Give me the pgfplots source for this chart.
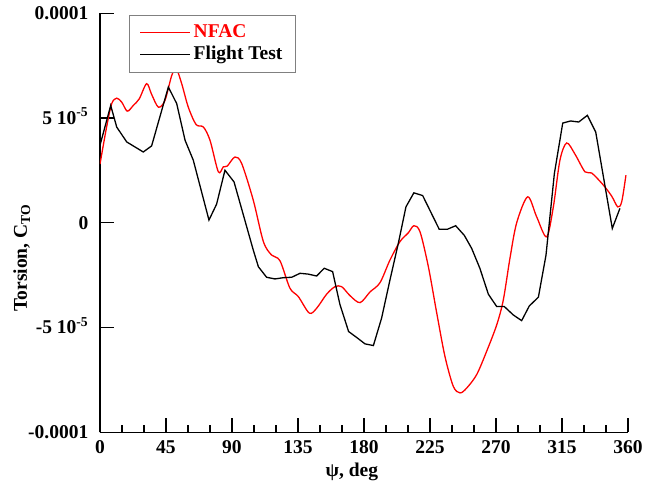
\documentclass[border=0pt]{standalone}
\usepackage{fontspec}
\setmainfont{Liberation Serif}
\usepackage{pgfplots}
\pgfplotsset{compat=1.18}
\begin{document}
\fontsize{19.5}{22}\selectfont\bfseries
\begin{tikzpicture}
\path[use as bounding box] (-100pt,-56.7pt) rectangle (557pt,432.3pt);
\begin{axis}[
  scale only axis, width=528pt, height=419pt,
  xmin=0, xmax=360, ymin=-0.0001, ymax=0.0001,
  axis x line*=bottom, axis y line*=left,
  axis line style={line width=1.3pt},
  xtick={0,45,...,360}, minor x tick num=2,
  ytick={-0.0001,-0.00005,0,0.00005,0.0001},
  yticklabels={-0.0001,{-5 10\smash{\textsuperscript{-5}}},0,{5 10\smash{\textsuperscript{-5}}},0.0001},
  scaled y ticks=false,
  /pgf/number format/assume math mode=true,
  tick align=inside, major tick length=14pt, minor tick length=7pt,
  every tick/.style={black, line width=1.3pt},
  tick label style={font=\fontsize{19.5}{22}\selectfont\bfseries},
  yticklabel style={xshift=-5pt},
  xticklabel style={yshift=-2pt},
  xlabel={ψ, deg},
  ylabel={Torsion, C\textsubscript{TO}},
  label style={font=\fontsize{19.5}{22}\selectfont\bfseries},
  xlabel style={at={(axis description cs:0.477,-0.095)}, anchor=center},
  ylabel style={at={(axis description cs:-0.148,0.416)}, anchor=center},
  legend style={at={(axis description cs:0.055,0.9967)}, anchor=north west,
    draw=gray, line width=0.8pt, font=\fontsize{19.5}{22}\selectfont\bfseries,
    nodes={inner sep=3pt},
    inner xsep=10pt, inner ysep=6.5pt, row sep=0pt},
  legend cell align=left,
  legend image code/.code={\draw[#1, line width=1.3pt] (0pt,0pt) -- (50pt,0pt);},
]
\addplot[red, line width=1.3pt, smooth, tension=0.5] coordinates {
(0,2.8e-5) (4.5,4.57e-5) (8,5.69e-5) (11.4,5.95e-5) (14.8,5.76e-5) (18.6,5.33e-5)
(22.7,5.6e-5) (26.8,5.92e-5) (31.8,6.64e-5) (35.2,6.13e-5) (39.8,5.52e-5) (44.3,5.84e-5)
(48.9,7.03e-5) (52,7.35e-5) (55.7,6.64e-5) (60.2,5.52e-5) (65.5,4.69e-5) (70.5,4.57e-5)
(75,3.94e-5) (80.7,2.43e-5) (84.1,2.67e-5) (86.8,2.71e-5) (92,3.14e-5) (96.6,2.83e-5)
(104.5,1.08e-5) (111.4,-0.9e-5) (117,-1.54e-5) (122.7,-1.81e-5) (129.5,-3.12e-5)
(135.2,-3.52e-5) (142.7,-4.31e-5) (147.7,-4.08e-5) (154.5,-3.41e-5) (160.2,-3.05e-5)
(164.8,-3.05e-5) (170.5,-3.48e-5) (177.3,-3.81e-5) (184.1,-3.3e-5) (190.9,-2.86e-5)
(197.7,-1.78e-5) (204.5,-0.9e-5) (210.2,-0.48e-5) (214,-0.14e-5) (218.2,-0.43e-5)
(223.9,-2.1e-5) (229.6,-4.31e-5) (235.2,-6.38e-5) (240.9,-7.81e-5) (245.5,-8.12e-5)
(250,-7.89e-5) (256.8,-7.25e-5) (263.6,-6.14e-5) (270.5,-4.87e-5) (275,-3.68e-5)
(279.5,-1.7e-5) (284.1,0.0) (291.6,1.24e-5) (297.7,0.29e-5) (304.5,-0.67e-5)
(309.1,0.76e-5) (313.6,2.99e-5) (318.2,3.81e-5) (323.9,3.27e-5) (330.7,2.43e-5)
(335.2,2.38e-5) (343.2,1.8e-5) (348.9,1.27e-5) (353,0.76e-5) (355.7,1.0e-5) (358.6,2.27e-5)
};
\addlegendentry{\textcolor{red}{NFAC}}
\addplot[black, line width=1.3pt] coordinates {
(0,3.7e-5) (7.3,5.6e-5) (11.4,4.57e-5) (18.2,3.86e-5) (29.5,3.38e-5) (35.2,3.67e-5)
(46.6,6.48e-5) (52.3,5.69e-5) (58,3.94e-5) (63.6,2.99e-5) (74.3,0.13e-5) (79.5,0.89e-5)
(85.2,2.51e-5) (91.4,1.95e-5) (104.5,-1.3e-5) (108,-2.1e-5) (113.6,-2.6e-5)
(119.3,-2.68e-5) (125,-2.62e-5) (130.7,-2.6e-5) (136.4,-2.41e-5) (142,-2.45e-5)
(147.7,-2.54e-5) (152.9,-2.17e-5) (158.6,-2.33e-5) (163.6,-3.9e-5) (169.5,-5.19e-5)
(175.5,-5.5e-5) (180.7,-5.78e-5) (186.4,-5.86e-5) (192,-4.55e-5) (197.7,-2.73e-5)
(203.4,-0.98e-5) (208.6,0.76e-5) (214,1.43e-5) (220,1.30e-5) (231.3,-0.31e-5)
(236.8,-0.31e-5) (242.5,-0.14e-5) (248.4,-0.6e-5) (253.4,-1.22e-5) (259,-2.17e-5)
(264.8,-3.41e-5) (270.5,-4.0e-5) (275.7,-4.0e-5) (281.8,-4.4e-5) (287.5,-4.67e-5)
(292.7,-3.97e-5) (298.9,-3.55e-5) (304.1,-1.54e-5) (309.8,2.35e-5) (315.5,4.76e-5)
(320.9,4.86e-5) (326.4,4.81e-5) (332.3,5.13e-5) (338,4.33e-5) (349.3,-0.27e-5)
(354.5,0.69e-5)
};
\addlegendentry{Flight Test}
\end{axis}
\end{tikzpicture}
\end{document}
